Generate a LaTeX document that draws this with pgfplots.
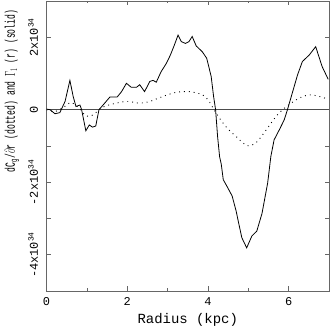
\documentclass[border=0pt]{standalone}
\usepackage{fontspec}
\setmainfont{Liberation Mono}
\usepackage{graphicx}
\usepackage{pgfplots}
\pgfplotsset{compat=1.18}
\usetikzlibrary{calc}

\begin{document}
\begin{tikzpicture}
\begin{axis}[
    scale only axis,
    width=282.5bp, height=290bp,
    xmin=0, xmax=7, ymin=-5, ymax=3,
    axis line style={black!60, line width=0.6pt},
    tick style={black!60, line width=0.6pt},
    tick align=inside,
    major tick length=4.5bp,
    minor tick length=2.5bp,
    xtick={0,2,4,6},
    minor xtick={1,3,5},
    ytick={-4,-3,-2,-1,0,2},
    yticklabels={-4x10\textsuperscript{34},,-2x10\textsuperscript{34},,0,2x10\textsuperscript{34}},
    /pgf/number format/assume math mode=true,
    ticklabel style={font=\fontsize{12}{12}\selectfont},
    yticklabel style={rotate=90, anchor=south},
    yticklabel shift=5bp,
    xticklabel shift=3bp,
    xlabel={Radius (kpc)},
    xlabel style={font=\fontsize{14}{14}\selectfont, yshift=-1bp},
]
% zero line
\addplot[black!70, line width=0.5pt] coordinates {(0,0) (7,0)};

% d C_g / d r (dotted)
\addplot[black, line width=0.9pt, dash pattern=on 0.9pt off 4pt, smooth] coordinates {
(0,0) (0.2,-0.05) (0.4,0.05) (0.6,0.2) (0.75,0.1) (0.85,0) (0.95,-0.15)
(1.07,-0.18) (1.2,-0.1) (1.36,0.05) (1.57,0.14) (1.98,0.23) (2.31,0.18)
(2.56,0.23) (2.89,0.37) (3.21,0.48) (3.54,0.50) (3.87,0.41) (4.03,0.23)
(4.20,-0.09) (4.44,-0.46) (4.69,-0.73) (4.97,-0.99) (5.2,-0.9) (5.48,-0.50)
(5.72,-0.14) (5.97,0.11) (6.26,0.32) (6.51,0.41) (6.75,0.37) (6.98,0.29)
};

% Gamma_1 (solid)
\addplot[black, line width=0.8pt] coordinates {
(0,0.02) (0.09,0.0) (0.21,-0.11) (0.33,-0.08) (0.46,0.23) (0.58,0.81)
(0.66,0.37) (0.73,0.09) (0.83,0.13) (0.87,0) (0.975,-0.58) (1.06,-0.42)
(1.14,-0.48) (1.22,-0.45) (1.30,0) (1.44,0.18) (1.57,0.35) (1.75,0.35)
(1.86,0.50) (1.98,0.73) (2.10,0.62) (2.23,0.62) (2.31,0.69) (2.43,0.50)
(2.56,0.78) (2.64,0.81) (2.72,0.76) (2.84,1.05) (2.97,1.28) (3.07,1.51)
(3.17,1.79) (3.26,2.06) (3.34,1.88) (3.44,1.83) (3.53,1.88) (3.61,2.02)
(3.71,1.76) (3.86,1.60) (3.97,1.42) (4.08,0.92) (4.14,0.37) (4.19,0)
(4.24,-0.75) (4.29,-1.30) (4.33,-1.50) (4.38,-1.93) (4.49,-2.15) (4.60,-2.38)
(4.70,-2.80) (4.76,-3.12) (4.84,-3.53) (4.96,-3.81) (5.09,-3.48) (5.21,-3.35)
(5.34,-2.86) (5.48,-2.02) (5.56,-1.28) (5.64,-0.83) (5.77,-0.55) (5.89,-0.28)
(5.97,0) (6.09,0.46) (6.22,0.96) (6.34,1.33) (6.51,1.51) (6.67,1.74)
(6.83,1.19) (6.98,0.84)
};
\end{axis}
\node[rotate=90, font=\fontsize{14}{14}\selectfont, inner sep=0pt]
  at ($(current axis.south west)+(-34.5bp,200bp)$)
  {\scalebox{0.58}[1]{dC$_\mathrm{g}$/$\partial$r (dotted) and $\Gamma_1$ (r) (solid)}};
\pgfresetboundingbox
\path ($(current axis.south west)+(-46.5bp,-41bp)$) rectangle ($(current axis.north east)+(3bp,1bp)$);
\end{tikzpicture}
\end{document}
